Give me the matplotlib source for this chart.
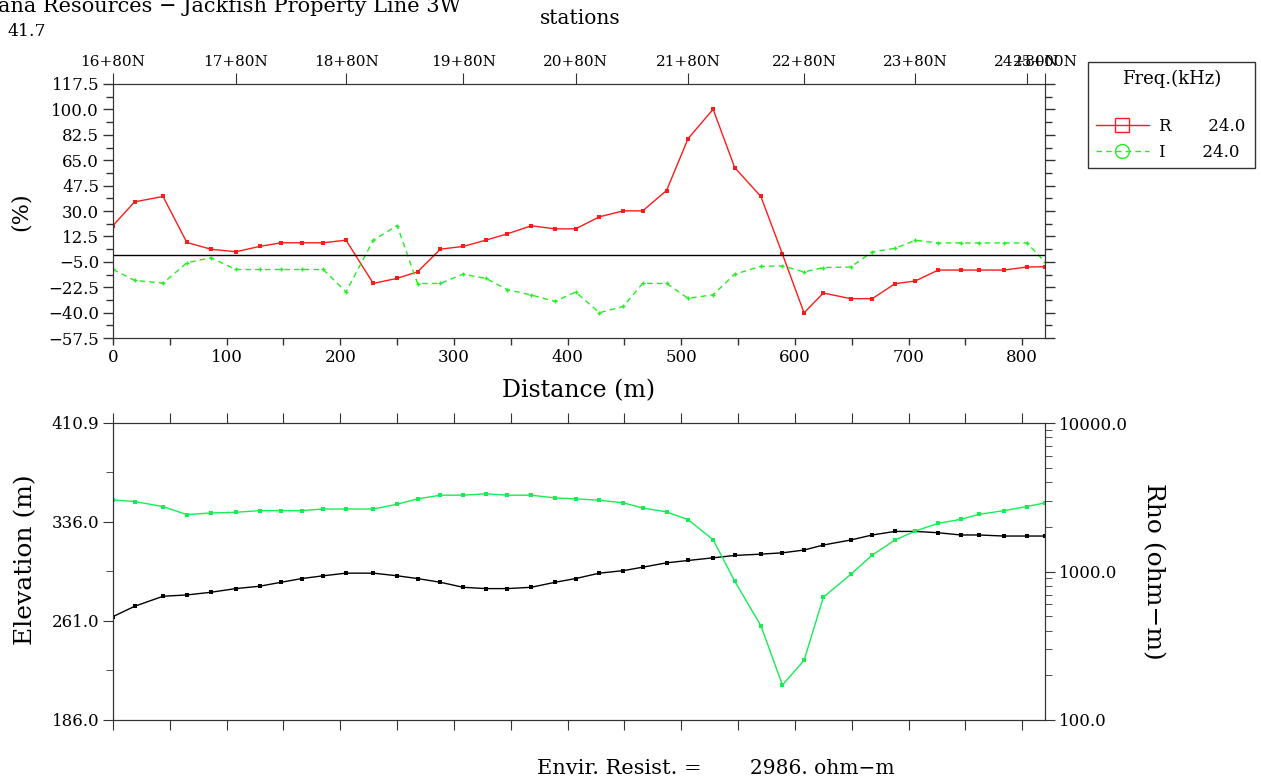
import numpy as np
import matplotlib
matplotlib.use("Agg")
import matplotlib.pyplot as plt
from matplotlib.lines import Line2D
from matplotlib.ticker import FixedLocator, LogLocator, NullFormatter

plt.rcParams['font.family'] = ['DejaVu Serif']

# station spacing (m along the line), one reading every station
distance = [0, 19, 44, 65, 86, 108, 129, 148, 166, 185, 205, 229, 250, 268, 288,
            308, 328, 347, 368, 389, 407, 428, 449, 466, 487, 506, 528, 547, 570,
            589, 608, 625, 649, 668, 688, 706, 726, 746, 762, 784, 804, 820]

# in-phase / quadrature (%), 24 kHz
r_pct = [20.0, 36.3, 40.0, 8.3, 3.7, 1.9, 5.6, 8.1, 8.1, 8.1,
         9.9, -19.9, -16.4, -11.9, 3.7, 5.6, 9.9, 14.3, 19.8, 17.7,
         17.7, 26.0, 30.1, 30.1, 44.1, 79.9, 100.1, 59.9, 40.0, 0.3,
         -40.2, -26.5, -30.4, -30.4, -20.1, -18.2, -10.7, -10.7, -10.7, -10.7,
         -8.6, -8.4]
i_pct = [-10.3, -17.8, -19.7, -5.7, -2.2, -10.3, -10.3, -10.3, -10.3, -10.3,
         -25.8, 9.9, 20.0, -20.0, -19.9, -13.5, -16.4, -24.2, -27.9, -32.3,
         -25.8, -40.1, -35.7, -19.9, -19.9, -30.2, -27.7, -13.5, -8.2, -7.8,
         -12.0, -9.0, -8.6, 1.8, 4.3, 9.8, 8.0, 8.0, 8.0, 8.0,
         8.0, -5.1]

elevation = [264.3, 272.1, 279.7, 280.7, 282.7, 285.5, 287.3, 290.3, 293.1, 295.2,
             297.2, 297.2, 295.2, 293.1, 290.3, 286.5, 285.5, 285.5, 286.5, 290.3,
             293.1, 297.2, 299.1, 301.7, 305.0, 306.8, 308.8, 310.6, 311.6, 312.6,
             314.7, 318.5, 322.3, 326.1, 328.8, 328.8, 327.8, 326.1, 326.1, 325.3,
             325.3, 325.3]
rho = [3034, 2958, 2737, 2415, 2478, 2505, 2570, 2570, 2570, 2636,
       2636, 2636, 2837, 3083, 3265, 3265, 3334, 3265, 3265, 3129,
       3083, 3020, 2897, 2680, 2518, 2235, 1636, 861, 432, 172,
       252, 671, 955, 1289, 1629, 1874, 2110, 2245, 2427, 2570,
       2737, 2897]

station_idx = [0, 5, 10, 15, 20, 25, 30, 35, 40, 41]
station_labels = ['16+80N', '17+80N', '18+80N', '19+80N', '20+80N',
                  '21+80N', '22+80N', '23+80N', '24+80N', '25+00N']

pct_ticks = [-57.5, -40.0, -22.5, -5.0, 12.5, 30.0, 47.5, 65.0, 82.5, 100.0, 117.5]
elev_ticks = [186.0, 261.0, 336.0, 410.9]
rho_ticks = [100.0, 1000.0, 10000.0]

W, H = 1261, 782
EDGE = '#333333'


def box(l, t, r, b):
    return [l / W, 1 - b / H, (r - l) / W, (b - t) / H]


def lab(v):
    return ('%.1f' % v).replace('-', '\u2212')


fig = plt.figure(figsize=(W / 100, H / 100), dpi=100)

# ---- top panel: percent response
ax = fig.add_axes(box(113, 84, 1045, 338))
ax.plot(distance, r_pct, color='#ff1a1a', lw=1, marker='s', ms=3, mew=0)
ax.plot(distance, i_pct, color='#22ee22', lw=1, ls=(0, (4, 3)), marker='+', ms=3.5, mew=1)
ax.axhline(0, color='black', lw=1)
ax.set_xlim(0, 820)
ax.set_ylim(-57.5, 117.5)
ax.set_yticks(pct_ticks)
ax.set_yticklabels([lab(v) for v in pct_ticks])
ax.yaxis.set_minor_locator(FixedLocator([v + 8.75 for v in pct_ticks[:-1]]))
ax.set_xticks(range(0, 801, 100))
ax.xaxis.set_minor_locator(FixedLocator(range(50, 801, 100)))
ax.tick_params(which='both', direction='out', right=True, top=False, labelsize=12,
               width=1, color=EDGE, pad=3)
ax.tick_params(axis='y', which='major', length=7)
ax.tick_params(axis='y', which='minor', length=5)
ax.tick_params(axis='x', which='both', length=5)
for s in ax.spines.values():
    s.set_color(EDGE)

sec = ax.twiny()
sec.set_xlim(ax.get_xlim())
sec.set_xticks([distance[i] for i in station_idx])
sec.set_xticklabels(station_labels)
sec.tick_params(direction='out', length=8, labelsize=11, color=EDGE, pad=3)
for s in sec.spines.values():
    s.set_color(EDGE)

fig.text(580 / W, 1 - 18 / H, 'stations', ha='center', va='center', fontsize=14.5)
fig.text(579 / W, 1 - 391 / H, 'Distance (m)', ha='center', va='center', fontsize=17)
fig.text(21 / W, 1 - 212 / H, '(%)', ha='center', va='center', rotation=90, fontsize=16)

handles = [Line2D([], [], color='#ff1a1a', lw=1, marker='s', ms=10, mfc='none'),
           Line2D([], [], color='#22ee22', lw=1, ls=(0, (4, 3)), marker='o', ms=10, mfc='none')]
leg = fig.legend(handles, ['R       24.0', 'I       24.0'], title='Freq.(kHz)\n',
                 loc='upper left', bbox_to_anchor=(1088 / W, 1 - 163 / H, 167 / W, 101 / H),
                 mode='expand', borderaxespad=0,
                 fancybox=False, edgecolor=EDGE, fontsize=12, title_fontsize=13,
                 handlelength=3.2, borderpad=0.45, labelspacing=0.55, handletextpad=0.6,
                 framealpha=1)
leg.get_frame().set_linewidth(1)

# ---- bottom panel: elevation and apparent resistivity
axb = fig.add_axes(box(113, 423, 1045, 720))
axb.plot(distance, elevation, color='black', lw=1, marker='s', ms=2.5, mew=0)
axb.set_xlim(0, 820)
axb.set_ylim(186.0, 410.9)
axb.set_yticks(elev_ticks)
axb.set_yticklabels([lab(v) for v in elev_ticks])
axb.yaxis.set_minor_locator(FixedLocator([(a + b) / 2 for a, b in zip(elev_ticks[:-1], elev_ticks[1:])]))
axb.set_xticks(range(0, 801, 50))
axb.tick_params(axis='x', which='both', top=True, bottom=True, labelbottom=False,
                direction='out', length=7, color=EDGE)
axb.tick_params(axis='y', which='major', direction='out', length=7, labelsize=12, color=EDGE, pad=3)
axb.tick_params(axis='y', which='minor', direction='out', length=5, color=EDGE)
for s in axb.spines.values():
    s.set_color(EDGE)

axr = axb.twinx()
axr.plot(distance, rho, color='#14ee55', lw=1, marker='s', ms=2.5, mew=0)
axr.set_yscale('log')
axr.set_ylim(100, 10000)
axr.set_yticks(rho_ticks)
axr.set_yticklabels([lab(v) for v in rho_ticks])
axr.yaxis.set_minor_locator(LogLocator(base=10, subs=np.arange(2, 10)))
axr.yaxis.set_minor_formatter(NullFormatter())
axr.tick_params(axis='y', which='major', direction='out', length=7, labelsize=12, color=EDGE, pad=3)
axr.tick_params(axis='y', which='minor', direction='out', length=5, color=EDGE)
for s in axr.spines.values():
    s.set_color(EDGE)

fig.text(26 / W, 1 - 560 / H, 'Elevation (m)', ha='center', va='center', rotation=90, fontsize=18)
fig.text(1153 / W, 1 - 571 / H, 'Rho (ohm\u2212m)', ha='center', va='center', rotation=-90, fontsize=18)

fig.text(537 / W, 1 - 769 / H, 'Envir. Resist. =', ha='left', va='center', fontsize=15)
fig.text(750 / W, 1 - 769 / H, '2986. ohm\u2212m', ha='left', va='center', fontsize=14.5)

fig.text(-2 / W, 1 - 7 / H, 'ana Resources \u2212 Jackfish Property Line 3W', ha='left', va='center', fontsize=15)
fig.text(8 / W, 1 - 31 / H, '41.7', ha='left', va='center', fontsize=12.5)

fig.savefig('out.png', dpi=100)
